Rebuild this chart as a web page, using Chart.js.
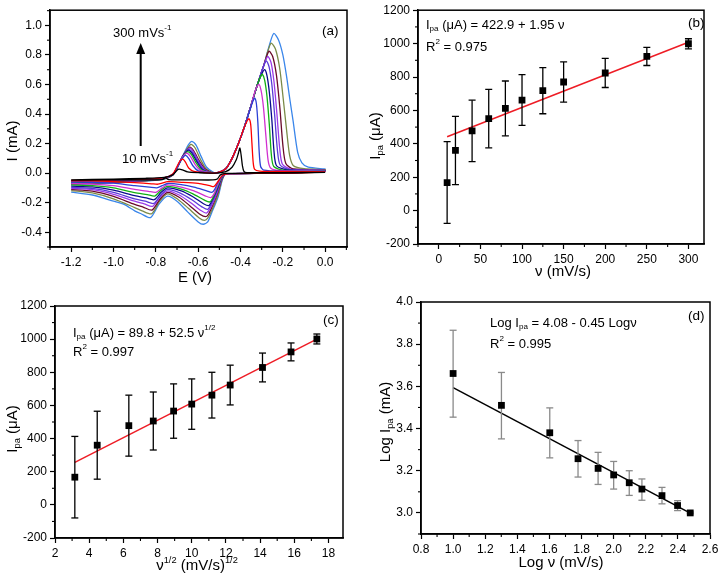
<!DOCTYPE html>
<html lang="en">
<head>
<meta charset="UTF-8">
<title>CV and peak current plots</title>
<script src="https://cdn.jsdelivr.net/npm/chart.js@4.4.1/dist/chart.umd.min.js"></script>
<style>
  * { margin: 0; padding: 0; box-sizing: border-box; }
  body { width: 722px; height: 577px; background: #fff; position: relative; overflow: hidden; }
  .panel { position: absolute; }
  #pa { left: 0; top: 0; width: 361px; height: 290px; }
  #pb { left: 361px; top: 0; width: 361px; height: 290px; }
  #pc { left: 0; top: 290px; width: 361px; height: 287px; }
  #pd { left: 361px; top: 290px; width: 361px; height: 287px; }
</style>
</head>
<body>
<div class="panel" id="pa"><canvas id="ca"></canvas></div>
<div class="panel" id="pb"><canvas id="cb"></canvas></div>
<div class="panel" id="pc"><canvas id="cc"></canvas></div>
<div class="panel" id="pd"><canvas id="cd"></canvas></div>
<script>
// ---- panel (a): voltammograms, [E (V), I (mA)] ----
const scanRates = [10, 20, 40, 60, 80, 100, 125, 150, 200, 250, 300];
const cvColors = ['#000000', '#ff0000', '#2a3fd6', '#d030d0', '#12b012', '#0a0a8c',
                  '#5a3ad8', '#9a3ae8', '#6a0a2a', '#7a8a48', '#3a86ea'];

const cv10 = [[-1.2,-0.045],[-1.0,-0.04],[-0.85,-0.035],[-0.76,-0.028],[-0.72,-0.012],[-0.70,0.02],[-0.69,0.027],[-0.675,0.022],[-0.65,0.008],[-0.6,0.003],[-0.52,0.0],[-0.47,0.01],[-0.44,0.04],[-0.42,0.09],[-0.41,0.135],[-0.403,0.17],[-0.397,0.12],[-0.391,0.05],[-0.384,0.012],[-0.37,0.004],[-0.2,0.004],[0,0.005],
  [-0.2,0.0],[-0.47,-0.002],[-0.495,-0.012],[-0.51,-0.04],[-0.53,-0.046],[-0.65,-0.045],[-0.74,-0.044],[-0.755,-0.032],[-0.77,-0.044],[-0.9,-0.046],[-1.05,-0.046],[-1.2,-0.047]];
const cv20 = [[-1.2,-0.05],[-1.0,-0.045],[-0.85,-0.04],[-0.76,-0.03],[-0.72,-0.005],[-0.70,0.045],[-0.685,0.085],[-0.672,0.095],[-0.66,0.075],[-0.645,0.035],[-0.62,0.012],[-0.57,0.004],[-0.52,0.0],[-0.47,0.03],[-0.44,0.1],[-0.41,0.2],[-0.385,0.3],[-0.37,0.35],[-0.36,0.368],[-0.352,0.33],[-0.346,0.2],[-0.34,0.07],[-0.333,0.025],[-0.31,0.014],[-0.2,0.011],[0,0.01],
  [-0.2,0.0],[-0.45,-0.003],[-0.478,-0.01],[-0.492,-0.025],[-0.508,-0.06],[-0.525,-0.09],[-0.545,-0.085],[-0.6,-0.07],[-0.68,-0.062],[-0.745,-0.058],[-0.77,-0.068],[-0.79,-0.075],[-0.82,-0.072],[-0.9,-0.064],[-1.0,-0.057],[-1.1,-0.053],[-1.2,-0.052]];
const cv40 = [[-1.2,-0.055],[-1.0,-0.048],[-0.85,-0.042],[-0.76,-0.031],[-0.72,-0.008],[-0.70,0.035],[-0.68,0.09],[-0.66,0.12],[-0.645,0.1],[-0.625,0.05],[-0.6,0.015],[-0.56,0.004],[-0.52,0.0],[-0.47,0.03],[-0.44,0.1],[-0.41,0.2],[-0.38,0.32],[-0.355,0.43],[-0.342,0.485],[-0.333,0.508],[-0.325,0.47],[-0.318,0.34],[-0.312,0.15],[-0.305,0.045],[-0.29,0.02],[-0.2,0.013],[0,0.012],
  [-0.2,0.0],[-0.45,-0.003],[-0.478,-0.01],[-0.49,-0.025],[-0.508,-0.065],[-0.522,-0.11],[-0.535,-0.13],[-0.56,-0.12],[-0.62,-0.095],[-0.68,-0.078],[-0.745,-0.07],[-0.77,-0.085],[-0.795,-0.10],[-0.83,-0.095],[-0.9,-0.085],[-1.0,-0.068],[-1.1,-0.063],[-1.2,-0.06]];
const cv60 = [[-1.2,-0.058],[-1.0,-0.05],[-0.85,-0.043],[-0.76,-0.032],[-0.72,-0.008],[-0.70,0.035],[-0.68,0.095],[-0.655,0.135],[-0.638,0.115],[-0.615,0.06],[-0.59,0.02],[-0.55,0.005],[-0.52,0.0],[-0.47,0.03],[-0.44,0.1],[-0.41,0.2],[-0.38,0.32],[-0.35,0.46],[-0.33,0.56],[-0.314,0.60],[-0.303,0.56],[-0.292,0.45],[-0.28,0.25],[-0.27,0.09],[-0.258,0.035],[-0.22,0.018],[0,0.013],
  [-0.2,0.0],[-0.45,-0.003],[-0.478,-0.01],[-0.49,-0.028],[-0.508,-0.08],[-0.525,-0.14],[-0.54,-0.165],[-0.565,-0.155],[-0.62,-0.12],[-0.68,-0.095],[-0.745,-0.08],[-0.77,-0.1],[-0.80,-0.13],[-0.835,-0.123],[-0.9,-0.11],[-1.0,-0.085],[-1.1,-0.074],[-1.2,-0.07]];
const cv80 = [[-1.2,-0.062],[-1.0,-0.052],[-0.85,-0.045],[-0.76,-0.033],[-0.72,-0.009],[-0.70,0.035],[-0.675,0.105],[-0.65,0.145],[-0.632,0.125],[-0.61,0.07],[-0.585,0.022],[-0.55,0.005],[-0.52,0.0],[-0.47,0.03],[-0.44,0.1],[-0.41,0.2],[-0.38,0.32],[-0.35,0.46],[-0.32,0.6],[-0.305,0.655],[-0.297,0.67],[-0.286,0.63],[-0.275,0.52],[-0.264,0.33],[-0.254,0.12],[-0.243,0.045],[-0.2,0.02],[0,0.015],
  [-0.2,0.0],[-0.45,-0.003],[-0.477,-0.01],[-0.49,-0.03],[-0.508,-0.09],[-0.53,-0.165],[-0.545,-0.195],[-0.57,-0.183],[-0.625,-0.14],[-0.68,-0.108],[-0.745,-0.09],[-0.775,-0.115],[-0.805,-0.155],[-0.84,-0.145],[-0.9,-0.132],[-1.0,-0.10],[-1.1,-0.085],[-1.2,-0.08]];
const cv100 = [[-1.2,-0.065],[-1.0,-0.054],[-0.85,-0.046],[-0.76,-0.034],[-0.72,-0.01],[-0.70,0.035],[-0.675,0.11],[-0.648,0.155],[-0.63,0.135],[-0.605,0.075],[-0.58,0.025],[-0.55,0.006],[-0.52,0.0],[-0.47,0.03],[-0.44,0.1],[-0.41,0.2],[-0.38,0.32],[-0.35,0.46],[-0.32,0.6],[-0.3,0.67],[-0.286,0.70],[-0.275,0.66],[-0.264,0.55],[-0.252,0.36],[-0.242,0.15],[-0.23,0.05],[-0.18,0.022],[0,0.016],
  [-0.2,0.0],[-0.45,-0.003],[-0.477,-0.01],[-0.49,-0.033],[-0.508,-0.1],[-0.533,-0.18],[-0.55,-0.22],[-0.575,-0.207],[-0.625,-0.16],[-0.68,-0.12],[-0.745,-0.10],[-0.775,-0.13],[-0.808,-0.18],[-0.845,-0.168],[-0.9,-0.153],[-1.0,-0.115],[-1.1,-0.093],[-1.2,-0.088]];
const cv125 = [[-1.2,-0.068],[-1.0,-0.056],[-0.85,-0.047],[-0.76,-0.035],[-0.72,-0.01],[-0.70,0.035],[-0.672,0.115],[-0.645,0.163],[-0.627,0.14],[-0.6,0.075],[-0.575,0.025],[-0.545,0.006],[-0.52,0.0],[-0.47,0.03],[-0.44,0.1],[-0.41,0.2],[-0.38,0.32],[-0.35,0.46],[-0.32,0.6],[-0.295,0.71],[-0.278,0.76],[-0.265,0.72],[-0.252,0.6],[-0.238,0.38],[-0.226,0.16],[-0.213,0.055],[-0.17,0.024],[0,0.017],
  [-0.2,0.0],[-0.45,-0.003],[-0.476,-0.01],[-0.49,-0.037],[-0.508,-0.11],[-0.535,-0.2],[-0.555,-0.245],[-0.58,-0.23],[-0.63,-0.18],[-0.685,-0.135],[-0.745,-0.11],[-0.775,-0.145],[-0.81,-0.205],[-0.85,-0.19],[-0.9,-0.174],[-1.0,-0.13],[-1.1,-0.103],[-1.2,-0.096]];
const cv150 = [[-1.2,-0.07],[-1.0,-0.058],[-0.85,-0.048],[-0.76,-0.036],[-0.72,-0.011],[-0.70,0.035],[-0.67,0.12],[-0.642,0.17],[-0.624,0.148],[-0.598,0.08],[-0.572,0.027],[-0.545,0.006],[-0.52,0.0],[-0.47,0.03],[-0.44,0.1],[-0.41,0.2],[-0.38,0.32],[-0.35,0.46],[-0.32,0.6],[-0.29,0.73],[-0.271,0.79],[-0.256,0.75],[-0.242,0.62],[-0.228,0.4],[-0.215,0.17],[-0.202,0.06],[-0.16,0.026],[0,0.018],
  [-0.2,0.0],[-0.45,-0.003],[-0.476,-0.01],[-0.49,-0.04],[-0.508,-0.122],[-0.535,-0.215],[-0.56,-0.27],[-0.585,-0.255],[-0.635,-0.2],[-0.69,-0.148],[-0.745,-0.12],[-0.78,-0.16],[-0.815,-0.225],[-0.855,-0.208],[-0.9,-0.19],[-1.0,-0.143],[-1.1,-0.112],[-1.2,-0.103]];
const cv200 = [[-1.2,-0.073],[-1.0,-0.06],[-0.85,-0.05],[-0.76,-0.037],[-0.72,-0.012],[-0.70,0.035],[-0.668,0.125],[-0.64,0.175],[-0.622,0.152],[-0.595,0.083],[-0.568,0.028],[-0.54,0.006],[-0.515,0.0],[-0.47,0.03],[-0.44,0.1],[-0.41,0.2],[-0.38,0.32],[-0.35,0.46],[-0.32,0.6],[-0.29,0.73],[-0.266,0.825],[-0.248,0.79],[-0.23,0.66],[-0.214,0.44],[-0.2,0.19],[-0.186,0.065],[-0.15,0.028],[0,0.019],
  [-0.2,0.0],[-0.45,-0.003],[-0.475,-0.01],[-0.489,-0.044],[-0.507,-0.13],[-0.535,-0.23],[-0.552,-0.28],[-0.565,-0.295],[-0.59,-0.28],[-0.64,-0.22],[-0.69,-0.163],[-0.745,-0.13],[-0.78,-0.175],[-0.818,-0.25],[-0.86,-0.23],[-0.9,-0.212],[-1.0,-0.158],[-1.1,-0.122],[-1.2,-0.11]];
const cv250 = [[-1.2,-0.076],[-1.0,-0.062],[-0.85,-0.052],[-0.76,-0.038],[-0.72,-0.012],[-0.70,0.035],[-0.665,0.135],[-0.635,0.195],[-0.615,0.172],[-0.59,0.095],[-0.563,0.03],[-0.535,0.006],[-0.51,0.0],[-0.47,0.03],[-0.44,0.1],[-0.41,0.2],[-0.38,0.32],[-0.35,0.46],[-0.32,0.6],[-0.29,0.73],[-0.27,0.83],[-0.255,0.88],[-0.235,0.84],[-0.215,0.71],[-0.198,0.5],[-0.183,0.3],[-0.168,0.12],[-0.15,0.05],[-0.1,0.03],[0,0.022],
  [-0.2,0.001],[-0.45,-0.003],[-0.475,-0.01],[-0.488,-0.048],[-0.506,-0.145],[-0.535,-0.25],[-0.555,-0.305],[-0.57,-0.32],[-0.595,-0.303],[-0.645,-0.24],[-0.695,-0.178],[-0.745,-0.14],[-0.782,-0.19],[-0.82,-0.275],[-0.865,-0.255],[-0.9,-0.233],[-1.0,-0.174],[-1.1,-0.134],[-1.2,-0.118]];
const cv300 = [[-1.2,-0.08],[-1.0,-0.065],[-0.85,-0.054],[-0.76,-0.04],[-0.72,-0.012],[-0.70,0.035],[-0.665,0.14],[-0.645,0.195],[-0.63,0.215],[-0.61,0.19],[-0.585,0.11],[-0.56,0.04],[-0.53,0.008],[-0.505,0.0],[-0.47,0.028],[-0.44,0.1],[-0.41,0.2],[-0.38,0.32],[-0.35,0.46],[-0.32,0.6],[-0.29,0.73],[-0.265,0.86],[-0.243,0.945],[-0.22,0.9],[-0.2,0.8],[-0.183,0.66],[-0.167,0.5],[-0.152,0.357],[-0.13,0.14],[-0.11,0.07],[-0.08,0.04],[0,0.027],
  [-0.2,0.002],[-0.45,-0.003],[-0.474,-0.01],[-0.487,-0.05],[-0.505,-0.156],[-0.536,-0.268],[-0.555,-0.33],[-0.576,-0.346],[-0.6,-0.33],[-0.65,-0.262],[-0.70,-0.19],[-0.745,-0.156],[-0.785,-0.21],[-0.825,-0.301],[-0.87,-0.275],[-0.9,-0.255],[-0.95,-0.212],[-1.0,-0.19],[-1.1,-0.148],[-1.2,-0.128]];
const cvCurves = [cv10, cv20, cv40, cv60, cv80, cv100, cv125, cv150, cv200, cv250, cv300];

// ---- panel (b): Ipa vs scan rate ----
const rateV = [10, 20, 40, 60, 80, 100, 125, 150, 200, 250, 300];
const ipaB = [168, 360, 477, 551, 612, 662, 718, 770, 824, 923, 999];
const errB = [245, 204, 184, 175, 164, 152, 138, 120, 87, 54, 30];
const fitBX = [10, 300];
const fitBY = [442, 1008];

// ---- panel (c): Ipa vs square root of scan rate ----
const sqrtV = [3.16, 4.47, 6.32, 7.75, 8.94, 10, 11.18, 12.25, 14.14, 15.81, 17.32];
const ipaC = [167, 360, 478, 506, 566, 608, 662, 723, 829, 923, 1001];
const errC = [246, 205, 184, 175, 164, 152, 138, 120, 87, 54, 30];
const fitCX = [3.16, 17.32];
const fitCY = [256, 1000];

// ---- panel (d): log-log ----
const logV = [1.0, 1.301, 1.602, 1.778, 1.903, 2.0, 2.097, 2.176, 2.301, 2.398, 2.477];
const logIpa = [3.661, 3.510, 3.380, 3.257, 3.211, 3.180, 3.143, 3.113, 3.082, 3.035, 3.000];
const errDUp = [0.205, 0.156, 0.118, 0.086, 0.076, 0.064, 0.057, 0.048, 0.039, 0.023, 0.004];
const errDDn = [0.207, 0.159, 0.119, 0.087, 0.076, 0.067, 0.060, 0.053, 0.039, 0.024, 0.004];
const fitDX = [1.0, 2.48];
const fitDY = [3.594, 2.998];

const FONT = "'Liberation Sans', Arial, Helvetica, sans-serif";
Chart.defaults.font.family = FONT;
Chart.defaults.color = '#000';

// rich text: parts are [text, ''|'sub'|'sup']
function drawRich(ctx, parts, x, y, size, align) {
  let w = 0;
  parts.forEach(p => {
    ctx.font = (p[1] ? size * 0.62 : size) + 'px ' + FONT;
    w += ctx.measureText(p[0]).width;
  });
  let cx = align === 'center' ? x - w / 2 : x;
  ctx.textBaseline = 'middle';
  ctx.textAlign = 'left';
  ctx.fillStyle = '#000';
  parts.forEach(p => {
    ctx.font = (p[1] ? size * 0.62 : size) + 'px ' + FONT;
    const dy = p[1] === 'sup' ? -size * 0.38 : p[1] === 'sub' ? size * 0.3 : 0;
    ctx.fillText(p[0], cx, y + dy);
    cx += ctx.measureText(p[0]).width;
  });
}

const IPA = [['I'], ['pa', 'sub']];
const decor = {
  ca: {
    texts: [
      { parts: [['300 mVs'], ['-1', 'sup']], x: 113, y: 33, size: 13 },
      { parts: [['10 mVs'], ['-1', 'sup']], x: 122, y: 159, size: 13 },
      { parts: [['(a)']], x: 322, y: 31, size: 13.5 },
      { parts: [['E (V)']], x: 195, y: 278, size: 15, align: 'center' },
      { parts: [['I (mA)']], x: 13, y: 141, size: 15, align: 'center', rot: true },
    ],
    arrow: { x: 140.7, y1: 146, y2: 43 },
  },
  cb: {
    texts: [
      { parts: IPA.concat([[' (μA) = 422.9 + 1.95 ν']]), x: 65, y: 25, size: 13 },
      { parts: [['R'], ['2', 'sup'], [' = 0.975']], x: 65, y: 47, size: 13 },
      { parts: [['(b)']], x: 327, y: 23, size: 13.5 },
      { parts: [['ν (mV/s)']], x: 202, y: 272, size: 15, align: 'center' },
      { parts: IPA.concat([[' (μA)']]), x: 15, y: 136, size: 15, align: 'center', rot: true },
    ],
  },
  cc: {
    texts: [
      { parts: IPA.concat([[' (μA) = 89.8 + 52.5 ν'], ['1/2', 'sup']]), x: 73, y: 43, size: 13 },
      { parts: [['R'], ['2', 'sup'], [' = 0.997']], x: 73, y: 62, size: 13 },
      { parts: [['(c)']], x: 323, y: 30, size: 13.5 },
      { parts: [['ν'], ['1/2', 'sup'], [' (mV/s)'], ['1/2', 'sup']], x: 197, y: 276, size: 15, align: 'center' },
      { parts: IPA.concat([[' (μA)']]), x: 13, y: 139, size: 15, align: 'center', rot: true },
    ],
  },
  cd: {
    texts: [
      { parts: [['Log I'], ['pa', 'sub'], [' = 4.08 - 0.45 Logν']], x: 129, y: 33, size: 13 },
      { parts: [['R'], ['2', 'sup'], [' = 0.995']], x: 129, y: 54, size: 13 },
      { parts: [['(d)']], x: 327, y: 26, size: 13.5 },
      { parts: [['Log ν (mV/s)']], x: 200, y: 273, size: 15, align: 'center' },
      { parts: [['Log I'], ['pa', 'sub'], [' (mA)']], x: 25, y: 132, size: 15, align: 'center', rot: true },
    ],
  },
};

// frame, minor ticks, arrow and labels
Chart.register({
  id: 'decor',
  afterDraw(chart) {
    const d = decor[chart.canvas.id];
    const ctx = chart.ctx, a = chart.chartArea;
    ctx.save();
    ctx.strokeStyle = '#000';
    ctx.lineWidth = 1.5;
    ctx.strokeRect(a.left, a.top, a.right - a.left, a.bottom - a.top);
    ctx.lineWidth = 1.1;
    ['x', 'y'].forEach(id => {
      const s = chart.scales[id];
      const vals = s.ticks.map(t => t.value);
      const step = vals[1] - vals[0];
      for (let v = vals[0] - step / 2; v <= s.max + 1e-9; v += step) {
        if (v < s.min - 1e-9) continue;
        const p = s.getPixelForValue(v);
        ctx.beginPath();
        if (id === 'x') { ctx.moveTo(p, a.bottom); ctx.lineTo(p, a.bottom + 3); }
        else { ctx.moveTo(a.left, p); ctx.lineTo(a.left - 3, p); }
        ctx.stroke();
      }
    });
    if (d.arrow) {
      const r = d.arrow;
      ctx.lineWidth = 2;
      ctx.beginPath(); ctx.moveTo(r.x, r.y1); ctx.lineTo(r.x, r.y2 + 8); ctx.stroke();
      ctx.fillStyle = '#000';
      ctx.beginPath(); ctx.moveTo(r.x, r.y2); ctx.lineTo(r.x - 4.5, r.y2 + 11); ctx.lineTo(r.x + 4.5, r.y2 + 11); ctx.closePath(); ctx.fill();
    }
    d.texts.forEach(t => {
      if (t.rot) {
        ctx.save(); ctx.translate(t.x, t.y); ctx.rotate(-Math.PI / 2);
        drawRich(ctx, t.parts, 0, 0, t.size, 'center');
        ctx.restore();
      } else {
        drawRich(ctx, t.parts, t.x, t.y, t.size, t.align);
      }
    });
    ctx.restore();
  }
});

const clean = v => (Math.abs(v) < 1e-9 ? 0 : v);
function axis(min, max, step, fmt, fitFn) {
  return {
    type: 'linear', min, max,
    afterFit: fitFn,
    ticks: { stepSize: step, includeBounds: false, autoSkip: false, maxRotation: 0,
             padding: 3, color: '#000', font: { size: 12 }, callback: fmt },
    grid: { drawOnChartArea: false, tickLength: 5, tickColor: '#000', tickWidth: 1.2 },
    border: { color: '#000', width: 1.5 },
  };
}
function makeChart(id, pad, yW, xH, xr, yr, fmtX, fmtY, datasets) {
  return new Chart(document.getElementById(id), {
    type: 'scatter',
    data: { datasets },
    options: {
      responsive: true, maintainAspectRatio: false, animation: false,
      layout: { padding: { top: pad[0], right: pad[1], left: 0, bottom: 0 } },
      plugins: { legend: { display: false }, tooltip: { enabled: false } },
      scales: {
        x: axis(xr[0], xr[1], xr[2], fmtX, s => { s.height = xH; }),
        y: axis(yr[0], yr[1], yr[2], fmtY, s => { s.width = yW; }),
      },
    },
  });
}

const toXY = pairs => pairs.map(p => ({ x: p[0], y: p[1] }));
const zip = (xs, ys) => xs.map((x, i) => ({ x, y: ys[i] }));
function errSegments(xs, ys, up, dn) {
  const pts = [];
  xs.forEach((x, i) => pts.push({ x, y: ys[i] + up[i] }, { x, y: ys[i] - dn[i] }, { x, y: null }));
  return pts;
}
function errCaps(xs, ys, up, dn) {
  const pts = [];
  xs.forEach((x, i) => pts.push({ x, y: ys[i] + up[i] }, { x, y: ys[i] - dn[i] }));
  return pts;
}
function regression(xs, ys, up, dn, fx, fy, fitColor, barColor) {
  return [
    { data: zip(xs, ys), pointStyle: 'rect', pointRadius: 4.8, backgroundColor: '#000', borderColor: '#000', borderWidth: 0 },
    { data: errCaps(xs, ys, up, dn), pointStyle: 'line', pointRadius: 3.5, borderColor: barColor, borderWidth: 1.3 },
    { data: errSegments(xs, ys, up, dn), showLine: true, spanGaps: false, pointRadius: 0, borderColor: barColor, borderWidth: 1.3 },
    { data: zip(fx, fy), showLine: true, pointRadius: 0, borderColor: fitColor, borderWidth: 1.5 },
  ];
}

const fmt1 = v => clean(v).toFixed(1);
const fmt0 = v => String(Math.round(v));

// max nudged off a whole number of steps so the ticks stay on multiples of the step
makeChart('ca', [8, 14], 50, 43, [-1.3, 0.103, 0.2], [-0.5, 1.103, 0.2], fmt1, fmt1,
  cvCurves.map((c, i) => ({
    label: scanRates[i] + ' mV/s', data: toXY(c), showLine: true, pointRadius: 0,
    borderColor: cvColors[i], borderWidth: 1.3, tension: 0.25,
  })));

makeChart('cb', [10, 18], 57, 46, [-25, 318.7, 50], [-200, 1200, 200], fmt0, fmt0,
  regression(rateV, ipaB, errB, errB, fitBX, fitBY, '#ee1c25', '#000'));

makeChart('cc', [16, 18], 55, 39, [2, 18.85, 2], [-200, 1200, 200], fmt0, fmt0,
  regression(sqrtV, ipaC, errC, errC, fitCX, fitCY, '#ee1c25', '#000'));

makeChart('cd', [12, 12], 60, 43, [0.8, 2.6, 0.2], [2.9, 4.0, 0.2], fmt1, fmt1,
  regression(logV, logIpa, errDUp, errDDn, fitDX, fitDY, '#000', '#8a8a8a'));
</script>
</body>
</html>
